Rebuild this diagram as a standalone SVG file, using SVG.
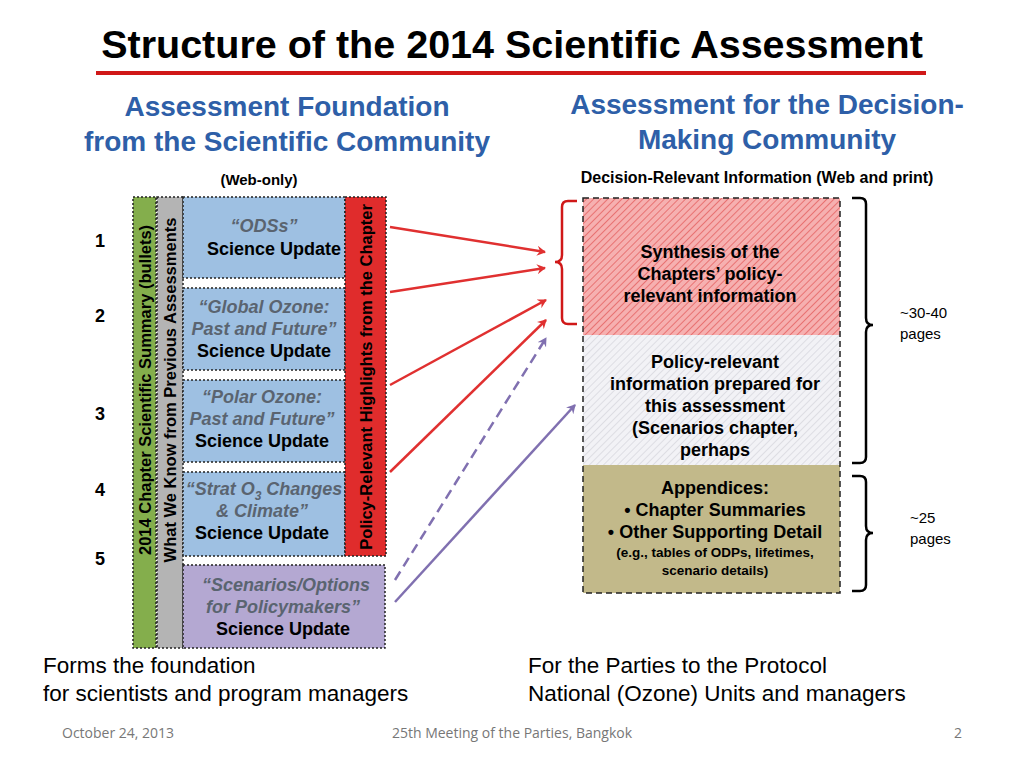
<svg xmlns="http://www.w3.org/2000/svg" width="1024" height="768" viewBox="0 0 1024 768">
<style>
text{font-family:"Liberation Sans",Arial,sans-serif;font-weight:bold}
.hd{fill:#2e5fa8;font-size:28px}
.bx{stroke:#222;stroke-width:1.5;stroke-dasharray:2,2}
.it{font-style:italic;fill:#5a6470;font-size:18px}
.su{font-size:18px;fill:#000}
.vt{font-size:16.5px;fill:#000}
.rt{font-size:18px;fill:#000}
.pl{font-size:22.5px;font-weight:normal;fill:#000}
.pg{font-size:15px;font-weight:normal}
.ft{font-family:"Open Sans",sans-serif;font-weight:normal;font-size:14px;fill:#777}
.ra{stroke:#e03030;stroke-width:2.5;fill:none}
.pa{stroke:#8070b0;stroke-width:2.5;fill:none}
</style>
<defs>
<marker id="ar" markerWidth="10" markerHeight="10" refX="8" refY="5" orient="auto" markerUnits="userSpaceOnUse"><path d="M0,0 L9,5 L0,10 L3,5z" fill="#e03030"/></marker>
<marker id="ap" markerWidth="10" markerHeight="10" refX="8" refY="5" orient="auto" markerUnits="userSpaceOnUse"><path d="M0,0 L9,5 L0,10 L3,5z" fill="#8070b0"/></marker>
<pattern id="hr" width="5" height="5" patternUnits="userSpaceOnUse" patternTransform="rotate(45)"><rect width="5" height="5" fill="#f6b0b0"/><line x1="0" y1="0" x2="0" y2="5" stroke="#e04848" stroke-width="1.2"/></pattern>
<pattern id="hg" width="5" height="5" patternUnits="userSpaceOnUse" patternTransform="rotate(45)"><rect width="5" height="5" fill="#f2f2f6"/><line x1="0" y1="0" x2="0" y2="5" stroke="#c8c8d0" stroke-width="1"/></pattern>
</defs>
<rect width="1024" height="768" fill="#fff"/>
<text x="512" y="58" text-anchor="middle" font-size="39.5" fill="#000">Structure of the 2014 Scientific Assessment</text>
<line x1="96" y1="73" x2="926" y2="73" stroke="#d01818" stroke-width="4"/>
<text class="hd" x="287" y="116" text-anchor="middle">Assessment Foundation</text>
<text class="hd" x="287" y="151" text-anchor="middle">from the Scientific Community</text>
<text class="hd" x="767" y="114" text-anchor="middle">Assessment for the Decision-</text>
<text class="hd" x="767" y="149" text-anchor="middle">Making Community</text>
<text x="259" y="185" text-anchor="middle" font-size="15">(Web-only)</text>
<text x="757" y="183" text-anchor="middle" font-size="16">Decision-Relevant Information (Web and print)</text>

<g id="left">
<rect class="bx" x="133" y="197" width="23" height="451" fill="#84ae4c"/>
<rect class="bx" x="157" y="197" width="26" height="451" fill="#b4b4b4"/>
<g id="row1"><rect class="bx" x="183" y="197" width="162" height="81" fill="#9ec0e2"/>
<text class="it" x="264" y="232" text-anchor="middle">“ODSs”</text><text class="su" x="274" y="255" text-anchor="middle">Science Update</text></g>
<g id="row2"><rect class="bx" x="183" y="288" width="162" height="82" fill="#9ec0e2"/>
<text class="it" x="264" y="313" text-anchor="middle">“Global Ozone:</text><text class="it" x="264" y="335" text-anchor="middle">Past and Future”</text><text class="su" x="264" y="357" text-anchor="middle">Science Update</text></g>
<g id="row3"><rect class="bx" x="183" y="380" width="162" height="82" fill="#9ec0e2"/>
<text class="it" x="262" y="403" text-anchor="middle">“Polar Ozone:</text><text class="it" x="262" y="425" text-anchor="middle">Past and Future”</text><text class="su" x="262" y="447" text-anchor="middle">Science Update</text></g>
<g id="row4"><rect class="bx" x="183" y="472" width="162" height="84" fill="#9ec0e2"/>
<text class="it" x="264" y="495" text-anchor="middle">“Strat O<tspan font-size="12" dy="5">3</tspan><tspan dy="-5"> Changes</tspan></text><text class="it" x="262" y="517" text-anchor="middle">&amp; Climate”</text><text class="su" x="262" y="539" text-anchor="middle">Science Update</text></g>
<g id="row5"><rect class="bx" x="183" y="565" width="202" height="83" fill="#b4a8d2"/>
<text class="it" x="286" y="591" text-anchor="middle">“Scenarios/Options</text><text class="it" x="283" y="613" text-anchor="middle">for Policymakers”</text><text class="su" x="283" y="635" text-anchor="middle">Science Update</text></g>
<rect class="bx" x="345" y="197" width="41" height="359" fill="#e02c2c"/>
<text class="vt" transform="translate(151,390) rotate(-90)" text-anchor="middle">2014 Chapter Scientific Summary (bullets)</text>
<text class="vt" transform="translate(176,390) rotate(-90)" text-anchor="middle">What We Know from Previous Assessments</text>
<text class="vt" transform="translate(372,377) rotate(-90)" text-anchor="middle">Policy-Relevant Highlights from the Chapter</text>
<text x="100" y="247" text-anchor="middle" font-size="18">1</text>
<text x="100" y="322" text-anchor="middle" font-size="18">2</text>
<text x="100" y="420" text-anchor="middle" font-size="18">3</text>
<text x="100" y="496" text-anchor="middle" font-size="18">4</text>
<text x="100" y="565" text-anchor="middle" font-size="18">5</text>
</g>

<g id="right">
<rect x="583" y="198" width="257" height="137" fill="url(#hr)"/>
<rect x="583" y="335" width="257" height="130" fill="url(#hg)"/>
<rect x="583" y="465" width="257" height="128" fill="#c2b98a"/>
<rect x="583" y="198" width="257" height="395" fill="none" stroke="#222" stroke-width="1.5" stroke-dasharray="6,4"/>
<text class="rt" x="710" y="258" text-anchor="middle">Synthesis of the</text>
<text class="rt" x="710" y="280" text-anchor="middle">Chapters’ policy-</text>
<text class="rt" x="710" y="302" text-anchor="middle">relevant information</text>
<text class="rt" x="715" y="368" text-anchor="middle">Policy-relevant</text>
<text class="rt" x="715" y="390" text-anchor="middle">information prepared for</text>
<text class="rt" x="715" y="412" text-anchor="middle">this assessment</text>
<text class="rt" x="715" y="434" text-anchor="middle">(Scenarios chapter,</text>
<text class="rt" x="715" y="456" text-anchor="middle">perhaps</text>
<text class="rt" x="715" y="494" text-anchor="middle">Appendices:</text>
<text class="rt" x="715" y="516" text-anchor="middle">• Chapter Summaries</text>
<text class="rt" x="715" y="538" text-anchor="middle">• Other Supporting Detail</text>
<text x="715" y="557" text-anchor="middle" font-size="13.5">(e.g., tables of ODPs, lifetimes,</text>
<text x="715" y="575" text-anchor="middle" font-size="13.5">scenario details)</text>
<path d="M577,201 H568 Q562,201 562,207 V255 Q562,262 555,262 Q562,262 562,269 V318 Q562,324 568,324 H577" fill="none" stroke="#d01818" stroke-width="2.5"/>
<path d="M852,198 H860 Q866,198 866,204 V318 Q866,325 873,325 Q866,325 866,332 V457 Q866,463 860,463 H852" fill="none" stroke="#000" stroke-width="2.5"/>
<path d="M852,476 H860 Q866,476 866,482 V526 Q866,533 873,533 Q866,533 866,540 V585 Q866,591 860,591 H852" fill="none" stroke="#000" stroke-width="2.5"/>
<text class="pg" x="900" y="318">~30-40</text>
<text class="pg" x="900" y="339">pages</text>
<text class="pg" x="910" y="523">~25</text>
<text class="pg" x="910" y="544">pages</text>
</g>

<g id="connectors">
<line class="ra" x1="390" y1="227" x2="545" y2="252" marker-end="url(#ar)"/>
<line class="ra" x1="390" y1="292" x2="545" y2="268" marker-end="url(#ar)"/>
<line class="ra" x1="390" y1="385" x2="546" y2="300" marker-end="url(#ar)"/>
<line class="ra" x1="390" y1="472" x2="546" y2="320" marker-end="url(#ar)"/>
<line class="pa" x1="395" y1="580" x2="546" y2="338" stroke-dasharray="10,6" marker-end="url(#ap)"/>
<line class="pa" x1="395" y1="602" x2="575" y2="405" marker-end="url(#ap)"/>
</g>

<text class="pl" x="43" y="673">Forms the foundation</text>
<text class="pl" x="43" y="701">for scientists and program managers</text>
<text class="pl" x="528" y="673">For the Parties to the Protocol</text>
<text class="pl" x="528" y="701">National (Ozone) Units and managers</text>
<text class="ft" x="62" y="738">October 24, 2013</text>
<text class="ft" x="512" y="738" text-anchor="middle">25th Meeting of the Parties, Bangkok</text>
<text class="ft" x="962" y="738" text-anchor="end">2</text>
</svg>
